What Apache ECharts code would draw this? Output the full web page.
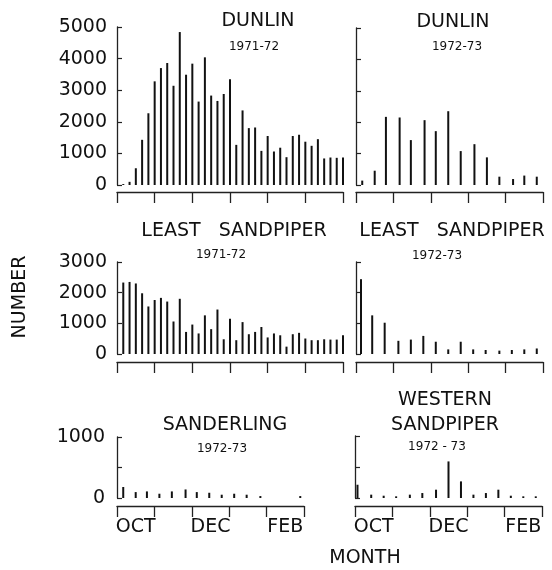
<!DOCTYPE html>
<html><head><meta charset="utf-8">
<script src="https://cdn.jsdelivr.net/npm/echarts@6/dist/echarts.min.js"></script>
<style>html,body{margin:0;padding:0;background:#fff}#c{width:552px;height:570px}</style>
</head><body><div id="c"></div>
<script>
// Month tick labels (intervals between ticks)
const monthsSixth = ['OCT','NOV','DEC','JAN','FEB','MAR'];
const monthsFive = ['OCT','NOV','DEC','JAN','FEB'];

// Dunlin 1971-72 (census day, counted from 1 Oct)
const dunlin7172Days = [5,10,15,20,25,30,35,40,45,50,55,60,65,70,75,80,85,90,95,100,105,110,115,120,125,130,135,140,145,150,155,160,165,170,175,180];
const dunlin7172 = [30,100,530,1430,2270,3280,3700,3860,3140,4840,3490,3840,2640,4040,2830,2660,2880,3350,1270,2360,1800,1820,1080,1550,1060,1180,880,1550,1590,1370,1240,1450,840,870,860,870];

// Dunlin 1972-73
const dunlin7273Days = [5,15,24,35,44,55,64,74,84,95,105,115,126,135,145];
const dunlin7273 = [140,455,2170,2150,1430,2065,1715,2350,1080,1300,880,265,190,300,265];

// Least Sandpiper 1971-72
const least7172Days = dunlin7172Days;
const least7172 = [2330,2350,2300,1980,1550,1760,1830,1710,1060,1800,720,960,670,1260,810,1450,480,1150,450,1040,645,720,880,540,670,610,240,645,690,505,450,450,480,470,470,610];

// Least Sandpiper 1972-73
const least7273Days = [4,13,23,34,44,54,64,74,84,94,104,115,125,135,145];
const least7273 = [2440,1260,1020,430,470,590,400,150,400,150,130,110,130,150,180];

// Sanderling 1972-73
const sanderDays = [5,15,24,34,44,55,64,74,84,94,104,115,147];
const sander = [180,97,108,70,108,140,97,86,54,70,54,32,32];

// Western Sandpiper 1972-73
const westernDays = [2,13,23,33,44,54,65,75,85,95,105,115,125,135,145];
const western = [214,54,37,27,54,80,134,590,268,54,80,134,37,27,27];

const FONT = '"DejaVu Sans", sans-serif';
const INK = '#111';

const panels = [
  {g:{left:117,top:27,width:226,height:158}, days:dunlin7172Days, vals:dunlin7172, yMax:5000, yInt:1000, months:monthsSixth, dayMax:180, showY:true, showX:false, yOff:5, xOff:7},
  {g:{left:356,top:28,width:187,height:157}, days:dunlin7273Days, vals:dunlin7273, yMax:5000, yInt:1000, months:monthsFive, dayMax:150, showY:false, showX:false, yOff:6, xOff:7},
  {g:{left:117,top:262,width:226,height:92}, days:least7172Days, vals:least7172, yMax:3000, yInt:1000, months:monthsSixth, dayMax:180, showY:true, showX:false, yOff:5, xOff:8},
  {g:{left:356,top:262,width:187,height:92}, days:least7273Days, vals:least7273, yMax:3000, yInt:1000, months:monthsFive, dayMax:150, showY:false, showX:false, yOff:7, xOff:8},
  {g:{left:117,top:437,width:187,height:61}, days:sanderDays, vals:sander, yMax:1000, yInt:500, months:monthsFive, dayMax:150, showY:true, showX:true, yOff:7, xOff:8},
  {g:{left:355,top:436,width:187,height:62}, days:westernDays, vals:western, yMax:1000, yInt:500, months:monthsFive, dayMax:150, showY:false, showX:true, yOff:6, xOff:8}
];

const grid=[], xAxis=[], yAxis=[], series=[];
panels.forEach((p,i)=>{
  grid.push(Object.assign({containLabel:false}, p.g));
  xAxis.push({type:'value', gridIndex:i, min:0, max:p.dayMax, show:false});
  xAxis.push({type:'category', gridIndex:i, data:p.months, position:'bottom', offset:p.xOff, boundaryGap:true,
    axisLine:{show:true, lineStyle:{color:'#222', width:1.3}},
    axisTick:{show:true, interval:0, alignWithLabel:false, inside:false, length:11, lineStyle:{color:'#222', width:1.3}},
    axisLabel:{show:p.showX, interval:1, margin:12, fontSize:19, color:INK, fontFamily:FONT},
    splitLine:{show:false}});
  yAxis.push({type:'value', gridIndex:i, min:0, max:p.yMax, interval:p.yInt, offset:p.yOff,
    axisLine:{show:true, lineStyle:{color:'#222', width:1.3}},
    axisTick:{show:true, inside:true, length:5, lineStyle:{color:'#222', width:1.2}},
    splitLine:{show:false},
    axisLabel:{show:p.showY, margin:5, fontSize:19, color:INK, fontFamily:FONT,
      formatter: v => (p.yInt===500 && v===500) ? '' : String(v)}});
  series.push({type:'bar', xAxisIndex:2*i, yAxisIndex:i, barWidth:2, silent:true,
    itemStyle:{color:INK}, data:p.days.map((d,k)=>[d,p.vals[k]])});
});

function txt(text, x, y, size, rot){
  return {type:'text', x:x, y:y, rotation:rot||0, silent:true,
    style:{text:text, font:size+'px '+FONT, fill:INK, textAlign:'center', textVerticalAlign:'middle', align:'center', verticalAlign:'middle'}};
}
const graphic = [
  txt('DUNLIN',258,21,19), txt('1971-72',254,47,12),
  txt('DUNLIN',453,22,19), txt('1972-73',457,47,12),
  txt('LEAST   SANDPIPER',234,231,19), txt('1971-72',221,255,12),
  txt('LEAST   SANDPIPER',452,231,19), txt('1972-73',437,256,12),
  txt('SANDERLING',225,425,19), txt('1972-73',222,449,12),
  txt('WESTERN',445,400,19), txt('SANDPIPER',445,425,19), txt('1972 - 73',437,447,12),
  txt('NUMBER',20,297,19,Math.PI/2),
  txt('MONTH',365,558,19)
];

const chart = echarts.init(document.getElementById('c'), null, {renderer:'canvas'});
chart.setOption({animation:false, backgroundColor:'#fff', grid, xAxis, yAxis, series, graphic});
</script></body></html>
